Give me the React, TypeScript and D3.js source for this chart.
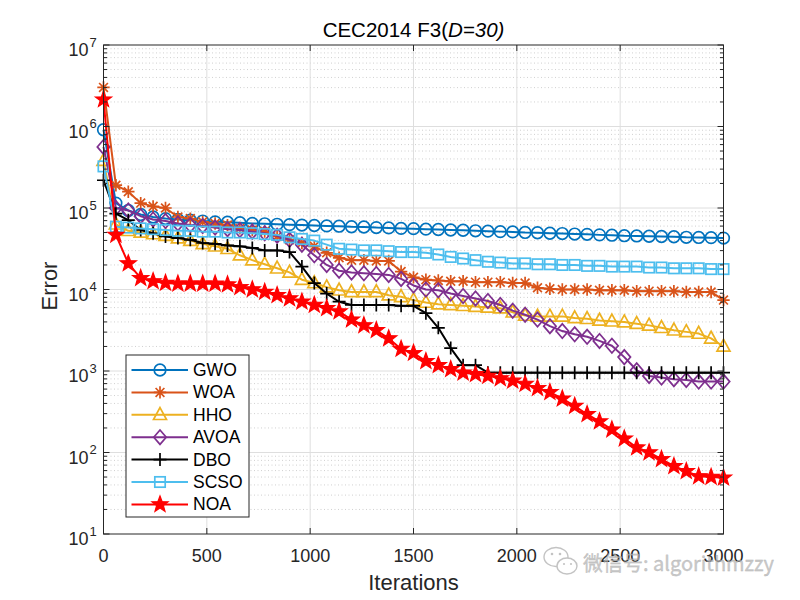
import React from "react";
import * as d3 from "d3";

// ---------- data ----------
const iterations: number[] = d3.range(0, 3001, 60);

const GWO = [912000, 114800, 93300, 83200, 77600, 74100, 72400, 70800, 69200, 67600, 67000, 66100, 64600, 64000, 63100, 62500, 61700, 61000, 60300, 59800, 58900, 58500, 57500, 57000, 56200, 55800, 55000, 54500, 53700, 53300, 52500, 52000, 51300, 50900, 50100, 49700, 49000, 48600, 47900, 47500, 46800, 46400, 45700, 45400, 45000, 44700, 44400, 43700, 43500, 43300, 42700];
const WOA = [3020000, 190500, 158500, 114800, 104700, 100000, 77600, 74100, 67600, 64600, 61700, 56200, 53700, 51300, 44700, 40700, 37200, 33900, 28200, 24500, 22900, 22900, 22400, 22400, 16600, 14100, 13200, 12900, 12600, 12600, 12300, 12300, 12300, 12000, 12000, 10500, 10200, 10000, 10000, 10000, 9770, 9770, 9770, 9550, 9550, 9550, 9550, 9330, 9330, 9330, 7410];
const HHO = [380000, 63100, 52500, 50100, 47900, 45700, 42700, 39800, 36300, 33900, 31600, 26300, 22900, 20400, 18200, 16200, 13200, 12000, 10700, 9770, 9330, 9330, 9330, 8510, 8130, 7410, 6920, 6610, 6460, 6310, 6170, 6030, 5890, 5250, 4790, 4680, 4680, 4680, 4470, 4370, 4170, 4070, 3980, 3800, 3630, 3390, 3160, 3020, 2880, 2510, 2000];
const AVOA = [562000, 100000, 93300, 79400, 72400, 69200, 64600, 61700, 60300, 57500, 55000, 53700, 51300, 49000, 45700, 40700, 35500, 26300, 20000, 17000, 16200, 15800, 15500, 15100, 13500, 11200, 10000, 9770, 8910, 8320, 7760, 7240, 6460, 5500, 4900, 4270, 3550, 3090, 2820, 2630, 2340, 2040, 1480, 1020, 871, 832, 794, 776, 741, 741, 741];
const DBO = [219000, 85100, 70800, 53700, 49000, 44700, 42700, 40700, 37200, 36300, 34700, 33900, 32400, 30200, 30200, 28800, 19100, 12000, 8910, 7080, 6460, 6460, 6460, 6460, 6310, 6310, 5130, 3390, 1910, 1180, 1180, 955, 955, 955, 955, 955, 955, 955, 955, 955, 955, 955, 955, 955, 955, 955, 955, 955, 955, 955, 955];
const SCSO = [324000, 58900, 57500, 56200, 55000, 53700, 52500, 52500, 51300, 51300, 50100, 50100, 49000, 47900, 46800, 43700, 41700, 39800, 35500, 31600, 30900, 30200, 30200, 29500, 28800, 28800, 28200, 26900, 25100, 24000, 22900, 21900, 21400, 20900, 20900, 20400, 20400, 20000, 20000, 19500, 19500, 19100, 19100, 19100, 18600, 18600, 18200, 18200, 18200, 17800, 17800];
const NOA = [2140000, 46800, 20900, 13800, 12600, 12000, 11750, 11750, 11750, 11750, 11500, 10700, 10000, 9330, 8510, 7760, 7080, 6460, 5890, 5370, 4270, 3630, 3160, 2510, 1860, 1660, 1320, 1180, 1050, 955, 912, 871, 813, 759, 692, 617, 550, 457, 372, 295, 240, 191, 148, 115, 100, 83, 68, 59, 51, 50, 49];

const seriesNames = ["GWO", "WOA", "HHO", "AVOA", "DBO", "SCSO", "NOA"];
const seriesValues = [GWO, WOA, HHO, AVOA, DBO, SCSO, NOA];
const seriesColors = ["#0072BD", "#D95319", "#EDB120", "#7E2F8E", "#000000", "#4DBEEE", "#FF0000"];
const seriesMarkers = ["circle", "asterisk", "triangle", "diamond", "plus", "square", "star"];

const xTicks = [0, 500, 1000, 1500, 2000, 2500, 3000];
const yExponents = [1, 2, 3, 4, 5, 6, 7];

// ---------- layout ----------
const W = 800;
const H = 600;
const L = 103.5, R = 723.5, T = 45, B = 534;
const FONT = "'Liberation Sans', Arial, Helvetica, sans-serif";
const AX = "#262626";

const x = d3.scaleLinear().domain([0, 3000]).range([L, R]);
const y = d3.scaleLog().domain([10, 1e7]).range([B, T]);

function starPath(Ro: number, Ri: number) {
  const pts: string[] = [];
  for (let k = 0; k < 10; k++) {
    const a = -Math.PI / 2 + (k * Math.PI) / 5;
    const r = k % 2 === 0 ? Ro : Ri;
    pts.push(`${(r * Math.cos(a)).toFixed(2)},${(r * Math.sin(a)).toFixed(2)}`);
  }
  return "M" + pts.join("L") + "Z";
}

function Marker({ type, color, cx, cy }: { type: string; color: string; cx: number; cy: number }) {
  const sw = 1.7;
  const tr = `translate(${cx},${cy})`;
  switch (type) {
    case "circle":
      return <circle cx={cx} cy={cy} r={5.8} fill="none" stroke={color} strokeWidth={sw} />;
    case "asterisk":
      return (
        <path transform={tr} d="M-6.2,0H6.2M0,-6.2V6.2M-4.4,-4.4L4.4,4.4M-4.4,4.4L4.4,-4.4" stroke={color} strokeWidth={sw} fill="none" />
      );
    case "triangle":
      return <path transform={tr} d="M0,-7.2L6.5,4.7L-6.5,4.7Z" stroke={color} strokeWidth={sw} fill="none" />;
    case "diamond":
      return <path transform={tr} d="M0,-7.2L6.2,0L0,7.2L-6.2,0Z" stroke={color} strokeWidth={sw} fill="none" />;
    case "plus":
      return <path transform={tr} d="M-6.5,0H6.5M0,-6.5V6.5" stroke={color} strokeWidth={sw} fill="none" />;
    case "square":
      return <rect x={cx - 5.2} y={cy - 5.2} width={10.4} height={10.4} stroke={color} strokeWidth={sw} fill="none" />;
    case "star":
      return <path transform={tr} d={starPath(8.5, 3.5)} stroke={color} strokeWidth={1.2} fill={color} />;
    default:
      return null;
  }
}

export default function App() {
  const line = d3
    .line<number>()
    .x((_, i) => x(iterations[i]))
    .y((v) => y(v));

  const minorY: number[] = [];
  for (const e of yExponents.slice(0, -1)) {
    for (let m = 2; m <= 9; m++) minorY.push(m * Math.pow(10, e));
  }

  const legX = 126, legY = 355, legW = 123, legH = 162;
  const rowY = (k: number) => 370 + k * 22.4;

  return (
    <svg width={W} height={H} style={{ position: "absolute", left: 0, top: 0, background: "#fff" }} fontFamily={FONT}>
      <rect x={0} y={0} width={W} height={H} fill="#fff" />
      {/* minor grid */}
      {minorY.map((v) => (
        <line key={"mg" + v} x1={L} x2={R} y1={y(v)} y2={y(v)} stroke="#c4c4c4" strokeWidth={0.8} strokeDasharray="1,2.5" />
      ))}
      {/* major grid */}
      {yExponents.slice(1, -1).map((e) => (
        <line key={"gy" + e} x1={L} x2={R} y1={y(Math.pow(10, e))} y2={y(Math.pow(10, e))} stroke="#dedede" strokeWidth={1} />
      ))}
      {xTicks.slice(1, -1).map((t) => (
        <line key={"gx" + t} x1={x(t)} x2={x(t)} y1={T} y2={B} stroke="#dedede" strokeWidth={1} />
      ))}

      {/* series */}
      {seriesValues.map((vals, s) => (
        <g key={seriesNames[s]}>
          <path d={line(vals) || ""} fill="none" stroke={seriesColors[s]} strokeWidth={2} strokeLinejoin="round" />
          {vals.map((v, i) => (
            <Marker key={i} type={seriesMarkers[s]} color={seriesColors[s]} cx={x(iterations[i])} cy={y(v)} />
          ))}
        </g>
      ))}

      {/* axes box */}
      <rect x={L} y={T} width={R - L} height={B - T} fill="none" stroke={AX} strokeWidth={1} />
      {/* x ticks */}
      {xTicks.map((t) => (
        <g key={"xt" + t}>
          <line x1={x(t)} x2={x(t)} y1={B} y2={B - 6} stroke={AX} />
          <line x1={x(t)} x2={x(t)} y1={T} y2={T + 6} stroke={AX} />
          <text x={x(t)} y={562} textAnchor="middle" fontSize={18} fill={AX}>
            {t}
          </text>
        </g>
      ))}
      {/* y ticks */}
      {yExponents.map((e) => {
        const yy = y(Math.pow(10, e));
        return (
          <g key={"yt" + e}>
            <line x1={L} x2={L + 6} y1={yy} y2={yy} stroke={AX} />
            <line x1={R} x2={R - 6} y1={yy} y2={yy} stroke={AX} />
            <text x={88.5} y={yy + 11} textAnchor="end" fontSize={18} fill={AX}>
              10
            </text>
            <text x={89.5} y={yy + 1.5} textAnchor="start" fontSize={13} fill={AX}>
              {e}
            </text>
          </g>
        );
      })}
      {minorY.map((v) => (
        <g key={"ym" + v}>
          <line x1={L} x2={L + 3.5} y1={y(v)} y2={y(v)} stroke={AX} />
          <line x1={R} x2={R - 3.5} y1={y(v)} y2={y(v)} stroke={AX} />
        </g>
      ))}

      {/* labels */}
      <text x={(L + R) / 2} y={37} textAnchor="middle" fontSize={20.5} fill="#000">
        CEC2014 F3(<tspan fontStyle="italic">D=30)</tspan>
      </text>
      <text x={(L + R) / 2} y={590} textAnchor="middle" fontSize={22} fill={AX}>
        Iterations
      </text>
      <text transform={`translate(57,286) rotate(-90)`} textAnchor="middle" fontSize={22} fill={AX}>
        Error
      </text>

      {/* legend */}
      <rect x={legX} y={legY} width={legW} height={legH} fill="#fff" stroke={AX} strokeWidth={1} />
      {seriesNames.map((n, k) => (
        <g key={"lg" + n}>
          <line x1={131.5} x2={188} y1={rowY(k)} y2={rowY(k)} stroke={seriesColors[k]} strokeWidth={2} />
          <Marker type={seriesMarkers[k]} color={seriesColors[k]} cx={160} cy={rowY(k)} />
          <text x={193} y={rowY(k) + 6} fontSize={17.5} fill="#000">
            {n}
          </text>
        </g>
      ))}

      {/* watermark */}
      <g opacity={0.75}>
        <ellipse cx={556} cy={557} rx={12} ry={9.5} fill="#fff" stroke="#b0b0b0" strokeWidth={1.4} />
        <ellipse cx={567} cy={566} rx={10} ry={8} fill="#fff" stroke="#b0b0b0" strokeWidth={1.4} />
        <circle cx={552} cy={554} r={1.3} fill="#b0b0b0" />
        <circle cx={560} cy={554} r={1.3} fill="#b0b0b0" />
        <circle cx={564} cy={564} r={1.1} fill="#b0b0b0" />
        <circle cx={571} cy={564} r={1.1} fill="#b0b0b0" />
        <text x={583} y={571} fontSize={20} fill="#b8b8b8" stroke="#9a9a9a" strokeWidth={0.3} fontFamily={"'Noto Sans CJK SC', 'Liberation Sans', sans-serif"}>
          微信号: algorithmzzy
        </text>
      </g>
    </svg>
  );
}
